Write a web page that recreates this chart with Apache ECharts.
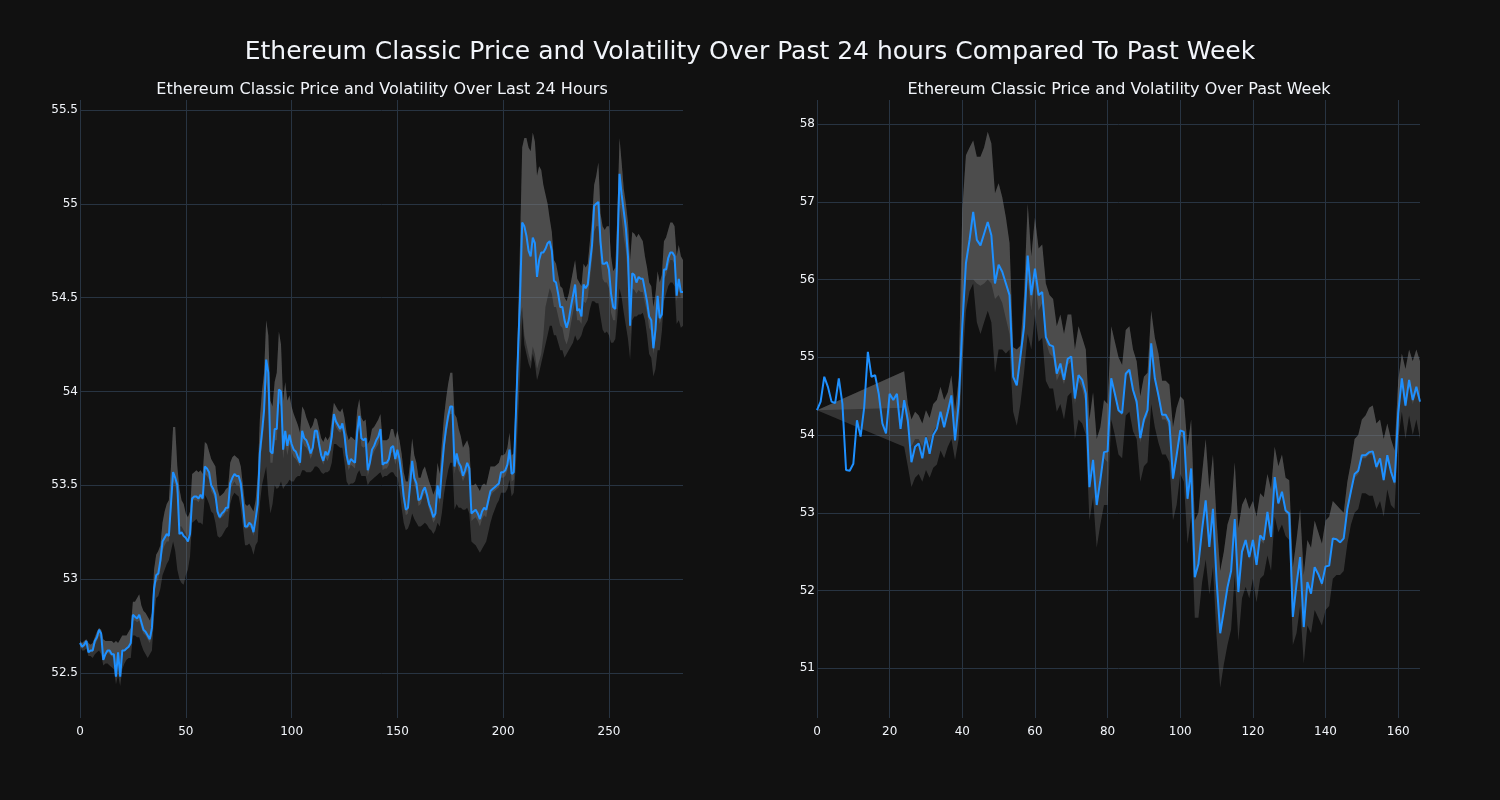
<!DOCTYPE html>
<html><head><meta charset="utf-8">
<script src="https://cdn.jsdelivr.net/npm/echarts@6/dist/echarts.min.js"></script>
<style>html,body{margin:0;padding:0;background:#111111;}#c{width:1500px;height:800px;}</style>
</head><body><div id="c"></div>
<script>
const mainTitle = 'Ethereum Classic Price and Volatility Over Past 24 hours Compared To Past Week';
const leftTitle = 'Ethereum Classic Price and Volatility Over Last 24 Hours';
const rightTitle = 'Ethereum Classic Price and Volatility Over Past Week';

// ---- Left panel: last 24 hours (5-minute steps, x = step index)
const leftPrice = [52.66,52.64,52.65,52.67,52.61,52.62,52.62,52.67,52.69,52.73,
52.71,52.57,52.60,52.62,52.62,52.60,52.60,52.48,52.61,52.48,
52.62,52.62,52.63,52.64,52.66,52.81,52.80,52.79,52.81,52.77,
52.73,52.72,52.70,52.68,52.74,52.95,53.02,53.03,53.10,53.20,
53.22,53.24,53.23,53.40,53.57,53.54,53.50,53.24,53.25,53.23,
53.22,53.20,53.24,53.43,53.44,53.44,53.43,53.45,53.43,53.60,
53.59,53.57,53.50,53.48,53.45,53.36,53.33,53.35,53.36,53.38,
53.38,53.51,53.54,53.56,53.55,53.55,53.51,53.40,53.28,53.28,
53.30,53.29,53.25,53.32,53.40,53.67,53.78,53.90,54.17,54.10,
53.68,53.67,53.80,53.80,54.01,54.00,53.69,53.79,53.71,53.77,
53.72,53.69,53.68,53.65,53.62,53.79,53.75,53.74,53.71,53.67,
53.70,53.79,53.79,53.72,53.66,53.63,53.68,53.66,53.69,53.76,
53.88,53.84,53.82,53.80,53.83,53.77,53.66,53.61,53.64,53.63,
53.62,53.78,53.87,53.75,53.74,53.75,53.58,53.62,53.69,53.71,
53.74,53.76,53.80,53.61,53.62,53.62,53.64,53.70,53.71,53.64,
53.69,53.64,53.55,53.44,53.37,53.38,53.50,53.63,53.54,53.51,
53.42,53.43,53.47,53.49,53.45,53.40,53.37,53.33,53.35,53.50,
53.43,53.58,53.71,53.80,53.87,53.92,53.92,53.60,53.67,53.62,
53.60,53.55,53.58,53.62,53.59,53.35,53.36,53.37,53.35,53.32,
53.36,53.38,53.37,53.42,53.47,53.48,53.49,53.50,53.51,53.57,
53.57,53.58,53.61,53.69,53.56,53.57,53.87,54.20,54.51,54.90,
54.88,54.83,54.75,54.72,54.82,54.79,54.61,54.70,54.74,54.74,
54.76,54.79,54.80,54.75,54.59,54.58,54.52,54.45,54.45,54.38,
54.34,54.38,54.45,54.51,54.57,54.43,54.44,54.40,54.57,54.55,
54.57,54.68,54.78,54.99,55.00,55.01,54.80,54.68,54.68,54.69,
54.65,54.52,54.45,54.44,54.74,55.16,55.05,54.96,54.87,54.72,
54.35,54.63,54.62,54.58,54.61,54.60,54.60,54.54,54.48,54.40,
54.38,54.23,54.33,54.51,54.39,54.41,54.65,54.65,54.71,54.74,
54.74,54.72,54.51,54.60,54.53,54.53];
const leftHi = [52.67,52.66,52.67,52.68,52.66,52.65,52.66,52.69,52.72,52.74,
52.73,52.68,52.67,52.67,52.67,52.67,52.66,52.67,52.66,52.68,
52.70,52.70,52.70,52.72,52.74,52.88,52.88,52.90,52.92,52.86,
52.83,52.82,52.80,52.78,52.82,53.05,53.13,53.15,53.18,53.30,
53.36,53.40,53.42,53.60,53.81,53.81,53.60,53.48,53.42,53.40,
53.35,53.33,53.36,53.56,53.57,53.58,53.57,53.58,53.56,53.73,
53.72,53.68,53.64,53.62,53.60,53.48,53.44,53.45,53.46,53.48,
53.49,53.62,53.65,53.66,53.65,53.64,53.60,53.50,53.40,53.39,
53.40,53.38,53.36,53.42,53.55,53.85,54.00,54.10,54.38,54.30,
53.95,53.92,54.05,54.10,54.32,54.25,53.95,54.05,53.95,53.98,
53.92,53.88,53.85,53.82,53.78,53.92,53.90,53.86,53.83,53.80,
53.82,53.86,53.85,53.80,53.75,53.73,53.76,53.74,53.76,53.85,
53.94,53.92,53.90,53.89,53.91,53.86,53.78,53.74,53.76,53.75,
53.74,53.90,53.96,53.86,53.84,53.85,53.72,53.74,53.80,53.81,
53.83,53.85,53.88,53.74,53.74,53.74,53.75,53.80,53.80,53.75,
53.79,53.74,53.67,53.57,53.52,53.52,53.62,53.75,53.66,53.62,
53.54,53.54,53.58,53.60,53.56,53.52,53.49,53.45,53.48,53.62,
53.56,53.72,53.86,53.96,54.04,54.10,54.10,53.88,53.86,53.80,
53.76,53.70,53.72,53.74,53.70,53.50,53.50,53.51,53.49,53.47,
53.50,53.51,53.50,53.55,53.60,53.60,53.60,53.61,53.62,53.66,
53.66,53.67,53.70,53.78,53.66,53.67,54.00,54.35,54.80,55.30,
55.35,55.35,55.30,55.28,55.38,55.33,55.15,55.20,55.18,55.10,
55.05,55.00,54.92,54.85,54.70,54.68,54.62,54.56,54.55,54.50,
54.48,54.52,54.58,54.64,54.70,54.60,54.58,54.56,54.68,54.66,
54.68,54.80,54.92,55.10,55.15,55.22,54.95,54.88,54.86,54.88,
54.88,54.72,54.64,54.66,54.95,55.35,55.22,55.08,55.00,54.90,
54.70,54.85,54.84,54.82,54.84,54.82,54.80,54.72,54.66,54.58,
54.56,54.45,54.52,54.64,54.58,54.62,54.80,54.82,54.86,54.90,
54.90,54.88,54.72,54.78,54.72,54.70];
const leftMid = [52.65,52.63,52.64,52.65,52.61,52.61,52.61,52.65,52.67,52.70,
52.68,52.60,52.60,52.61,52.60,52.59,52.58,52.52,52.58,52.52,
52.62,52.62,52.63,52.64,52.65,52.78,52.78,52.77,52.78,52.74,
52.71,52.70,52.68,52.66,52.70,52.90,52.98,53.00,53.05,53.15,
53.18,53.20,53.20,53.35,53.52,53.50,53.45,53.28,53.28,53.26,
53.24,53.22,53.26,53.42,53.42,53.42,53.41,53.43,53.42,53.56,
53.55,53.53,53.47,53.45,53.42,53.34,53.32,53.33,53.34,53.36,
53.36,53.48,53.50,53.52,53.50,53.50,53.47,53.37,53.27,53.27,
53.28,53.27,53.23,53.30,53.38,53.60,53.72,53.82,54.05,53.98,
53.62,53.62,53.74,53.74,53.94,53.92,53.64,53.73,53.66,53.72,
53.68,53.65,53.64,53.62,53.60,53.74,53.71,53.70,53.68,53.64,
53.67,53.75,53.75,53.69,53.64,53.61,53.65,53.63,53.66,53.73,
53.84,53.81,53.79,53.78,53.80,53.73,53.63,53.58,53.61,53.60,
53.59,53.74,53.83,53.71,53.70,53.71,53.55,53.59,53.65,53.68,
53.70,53.72,53.76,53.58,53.59,53.59,53.61,53.67,53.68,53.61,
53.65,53.60,53.51,53.40,53.34,53.35,53.46,53.58,53.50,53.47,
53.39,53.40,53.44,53.46,53.42,53.37,53.34,53.30,53.32,53.47,
53.40,53.54,53.67,53.76,53.83,53.88,53.88,53.56,53.63,53.58,
53.56,53.52,53.55,53.58,53.55,53.31,53.32,53.33,53.31,53.28,
53.32,53.34,53.33,53.39,53.44,53.46,53.47,53.48,53.49,53.54,
53.54,53.55,53.58,53.65,53.52,53.53,53.80,54.10,54.40,54.45,
54.30,54.25,54.20,54.16,54.24,54.20,54.12,54.16,54.20,54.30,
54.45,54.50,54.55,54.52,54.45,54.45,54.40,54.35,54.34,54.28,
54.25,54.29,54.36,54.42,54.48,54.38,54.38,54.36,54.48,54.47,
54.50,54.60,54.70,54.85,54.88,54.88,54.70,54.60,54.58,54.58,
54.55,54.42,54.38,54.38,54.65,55.00,54.92,54.82,54.75,54.60,
54.30,54.55,54.54,54.52,54.54,54.53,54.53,54.47,54.42,54.34,
54.32,54.20,54.28,54.44,54.36,54.40,54.60,54.62,54.66,54.70,
54.70,54.68,54.48,54.55,54.50,54.50];
const leftLo = [52.64,52.62,52.62,52.63,52.59,52.59,52.58,52.60,52.61,52.62,
52.60,52.54,52.55,52.55,52.54,52.53,52.52,52.44,52.49,52.43,
52.52,52.55,52.57,52.58,52.58,52.70,52.70,52.69,52.69,52.65,
52.62,52.60,52.58,52.60,52.62,52.80,52.90,52.91,52.95,53.02,
53.05,53.08,53.10,53.15,53.20,53.15,53.05,53.00,52.98,52.97,
53.02,53.05,53.12,53.30,53.31,53.32,53.30,53.30,53.29,53.45,
53.43,53.40,53.36,53.35,53.30,53.23,53.22,53.23,53.25,53.27,
53.28,53.40,53.44,53.46,53.45,53.44,53.38,53.28,53.18,53.18,
53.19,53.17,53.13,53.18,53.20,53.40,53.50,53.55,53.60,53.45,
53.35,53.40,53.50,53.48,53.49,53.52,53.48,53.50,53.51,53.53,
53.52,53.52,53.54,53.55,53.55,53.58,53.58,53.57,53.57,53.57,
53.58,53.60,53.60,53.59,53.57,53.56,53.57,53.57,53.58,53.62,
53.72,53.72,53.71,53.70,53.70,53.62,53.52,53.50,53.51,53.51,
53.52,53.56,53.58,53.55,53.55,53.55,53.50,53.52,53.53,53.54,
53.55,53.56,53.57,53.54,53.55,53.55,53.56,53.57,53.57,53.55,
53.54,53.48,53.38,53.30,53.26,53.27,53.30,53.35,53.32,53.30,
53.28,53.28,53.29,53.30,53.29,53.27,53.26,53.24,53.26,53.30,
53.28,53.35,53.45,53.52,53.58,53.62,53.62,53.37,53.40,53.38,
53.38,53.37,53.37,53.38,53.35,53.20,53.19,53.18,53.16,53.14,
53.16,53.18,53.20,53.25,53.30,53.34,53.37,53.40,53.42,53.46,
53.46,53.46,53.48,53.53,53.44,53.46,53.60,53.85,54.10,54.40,
54.25,54.20,54.15,54.12,54.20,54.15,54.06,54.10,54.15,54.20,
54.25,54.30,54.35,54.35,54.30,54.30,54.26,54.22,54.22,54.18,
54.20,54.22,54.24,54.26,54.30,54.27,54.28,54.30,54.34,54.36,
54.38,54.44,54.48,54.48,54.47,54.47,54.40,54.33,54.31,54.32,
54.30,54.26,54.26,54.28,54.40,54.55,54.50,54.42,54.35,54.28,
54.17,54.38,54.40,54.40,54.41,54.41,54.42,54.38,54.30,54.20,
54.18,54.08,54.12,54.22,54.22,54.32,54.48,54.52,54.56,54.58,
54.58,54.56,54.36,54.38,54.34,54.35];

// ---- Right panel: past week (hourly steps, x = step index)
const rightPrice = [54.32,54.43,54.75,54.62,54.43,54.41,54.73,54.40,53.55,53.54,
53.63,54.19,53.98,54.36,55.07,54.75,54.77,54.53,54.15,54.02,
54.53,54.45,54.53,54.08,54.45,54.19,53.65,53.85,53.89,53.70,
53.97,53.76,54.00,54.08,54.30,54.10,54.30,54.51,53.93,54.40,
55.40,56.21,56.51,56.87,56.51,56.44,56.59,56.74,56.57,55.95,
56.19,56.10,55.95,55.80,54.75,54.64,55.01,55.39,56.31,55.80,
56.14,55.80,55.84,55.26,55.16,55.14,54.79,54.92,54.71,54.98,
55.01,54.47,54.77,54.71,54.53,53.33,53.68,53.10,53.42,53.78,
53.79,54.73,54.53,54.32,54.28,54.79,54.84,54.58,54.43,53.96,
54.20,54.32,55.18,54.73,54.51,54.26,54.26,54.17,53.44,53.74,
54.06,54.04,53.18,53.57,52.17,52.34,52.78,53.16,52.56,53.05,
52.13,51.45,51.74,52.04,52.25,52.92,51.98,52.50,52.65,52.43,
52.65,52.33,52.71,52.65,53.01,52.69,53.46,53.12,53.27,53.03,
52.99,51.66,52.08,52.43,51.53,52.11,51.96,52.30,52.21,52.09,
52.31,52.32,52.67,52.66,52.62,52.67,53.05,53.28,53.50,53.54,
53.74,53.74,53.78,53.79,53.59,53.70,53.42,53.74,53.53,53.39,
54.28,54.73,54.38,54.71,54.45,54.62,54.43];
const N = null;
const rightHi = [54.32,N,N,N,N,N,N,N,N,N,
N,N,N,N,N,N,N,N,N,N,
N,N,N,N,54.82,54.40,54.20,54.30,54.25,54.15,
54.32,54.22,54.40,54.45,54.62,54.45,54.55,54.77,54.30,54.72,
56.90,57.60,57.70,57.79,57.58,57.58,57.70,57.90,57.75,57.11,
57.24,57.06,56.80,56.47,55.13,55.10,55.15,55.80,56.98,56.30,
56.80,56.40,56.45,55.95,55.80,55.75,55.40,55.55,55.30,55.55,
55.55,55.10,55.40,55.25,55.10,54.20,54.55,53.95,54.10,54.45,
54.40,55.40,55.20,55.00,54.90,55.35,55.40,55.10,54.95,54.50,
54.75,54.80,55.60,55.25,55.05,54.70,54.70,54.65,54.10,54.35,
54.50,54.45,53.85,54.20,52.90,53.00,53.50,53.95,53.30,53.75,
52.90,52.25,52.50,52.85,53.00,53.65,52.80,53.10,53.20,53.05,
53.15,52.95,53.25,53.20,53.50,53.30,53.85,53.60,53.75,53.45,
53.42,52.30,52.65,53.05,52.20,52.65,52.55,52.90,52.75,52.60,
52.90,52.95,53.15,53.10,53.05,53.00,53.40,53.65,53.95,54.00,
54.20,54.25,54.35,54.38,54.15,54.20,53.95,54.15,53.95,53.80,
54.70,55.05,54.85,55.10,54.95,55.10,54.95];
const rightMid = [54.32,N,N,N,N,N,N,N,N,N,
N,N,N,N,N,N,N,N,N,N,
N,N,N,N,54.35,54.10,53.85,53.95,53.95,53.85,
54.00,53.90,54.05,54.12,54.28,54.15,54.25,54.42,54.00,54.40,
55.40,56.00,56.00,56.00,55.95,55.92,55.95,56.00,55.95,55.75,
55.80,55.70,55.50,55.30,54.80,54.65,54.95,55.30,56.00,55.60,
56.00,55.60,55.70,55.20,55.05,55.00,54.70,54.80,54.65,54.90,
54.95,54.40,54.70,54.60,54.40,53.40,53.70,53.10,53.40,53.70,
53.65,54.70,54.50,54.30,54.25,54.75,54.80,54.55,54.35,53.90,
54.15,54.25,55.10,54.70,54.45,54.20,54.20,54.10,53.40,53.70,
54.00,53.95,53.15,53.50,52.20,52.35,52.75,53.10,52.55,53.00,
52.10,51.45,51.75,52.05,52.25,52.90,52.00,52.45,52.60,52.40,
52.60,52.30,52.65,52.60,52.95,52.65,53.40,53.10,53.25,53.00,
52.95,51.65,52.05,52.40,51.50,52.10,51.95,52.30,52.20,52.05,
52.30,52.35,52.65,52.65,52.60,52.65,53.00,53.25,53.45,53.50,
53.70,53.70,53.75,53.75,53.55,53.65,53.40,53.70,53.50,53.35,
54.25,54.65,54.35,54.65,54.40,54.55,54.40];
const rightLo = [54.32,N,N,N,N,N,N,N,N,N,
N,N,N,N,N,N,N,N,N,N,
N,N,N,N,53.85,53.60,53.33,53.45,53.50,53.40,
53.55,53.45,53.58,53.62,53.80,53.70,53.85,53.95,53.68,53.95,
54.90,55.60,55.85,55.95,55.45,55.30,55.45,55.60,55.45,54.80,
55.10,55.10,55.05,55.10,54.30,54.12,54.40,54.80,55.30,55.10,
55.55,55.20,55.25,54.70,54.60,54.60,54.30,54.40,54.20,54.50,
54.55,53.95,54.20,54.15,54.00,52.90,53.20,52.55,52.85,53.10,
53.10,54.20,54.00,53.75,53.70,54.25,54.30,54.05,53.95,53.40,
53.60,53.65,54.40,54.10,53.90,53.75,53.75,53.65,52.90,53.10,
53.50,53.40,52.60,52.95,51.65,51.65,52.10,52.40,51.95,52.30,
51.40,50.75,51.05,51.30,51.50,52.20,51.35,51.90,52.05,51.90,
52.15,51.85,52.15,52.20,52.45,52.25,52.95,52.75,52.85,52.70,
52.65,51.30,51.45,51.80,51.06,51.55,51.45,51.75,51.65,51.55,
51.75,51.80,52.15,52.20,52.20,52.25,52.60,52.85,53.00,53.05,
53.25,53.25,53.22,53.22,53.05,53.15,52.95,53.30,53.10,53.05,
53.95,54.30,53.95,54.25,54.00,54.20,53.95];

const FONT = 'DejaVu Sans';
const TXT = '#f2f5fa';
const GRIDC = '#283442';
const BAND = 'rgba(128,128,128,0.32)';

function bandSeries(idx, hi, lo) {
  return {
    type: 'custom', xAxisIndex: idx, yAxisIndex: idx, silent: true, clip: true, z: 1,
    data: [[0, hi[0]]],
    renderItem: function (params, api) {
      const pts = [];
      for (let i = 0; i < hi.length; i++) if (hi[i] != null) pts.push(api.coord([i, hi[i]]));
      for (let i = lo.length - 1; i >= 0; i--) if (lo[i] != null) pts.push(api.coord([i, lo[i]]));
      return { type: 'polygon', shape: { points: pts }, style: { fill: BAND, stroke: null } };
    }
  };
}
function lineSeries(idx, arr) {
  return {
    type: 'line', xAxisIndex: idx, yAxisIndex: idx, z: 3, showSymbol: false, clip: true,
    data: arr.map((v, i) => [i, v]),
    lineStyle: { color: '#1E90FF', width: 2 }, itemStyle: { color: '#1E90FF' }
  };
}
function xAx(idx, max, interval) {
  return {
    type: 'value', gridIndex: idx, min: 0, max: max, interval: interval,
    axisLine: { show: false }, axisTick: { show: false },
    axisLabel: { color: TXT, fontSize: 12, fontFamily: FONT, margin: 8, showMaxLabel: false },
    splitLine: { show: true, showMaxLine: false, lineStyle: { color: GRIDC, width: 1 } }
  };
}
function yAx(idx, min, max, interval) {
  return {
    type: 'value', gridIndex: idx, min: min, max: max, minInterval: interval, maxInterval: interval,
    axisLine: { show: false }, axisTick: { show: false },
    axisLabel: { color: TXT, fontSize: 12, fontFamily: FONT, margin: 2, showMinLabel: false, showMaxLabel: false },
    splitLine: { show: true, showMinLine: false, showMaxLine: false, lineStyle: { color: GRIDC, width: 1 } }
  };
}

const chart = echarts.init(document.getElementById('c'), null, { renderer: 'canvas' });
chart.setOption({
  backgroundColor: '#111111',
  animation: false,
  title: [
    { text: mainTitle, left: 'center', top: 35, textStyle: { color: TXT, fontSize: 25, fontWeight: 'normal', fontFamily: FONT } },
    { text: leftTitle, left: 377, textAlign: 'center', top: 77, textStyle: { color: TXT, fontSize: 16, fontWeight: 'normal', fontFamily: FONT } },
    { text: rightTitle, left: 1114, textAlign: 'center', top: 77, textStyle: { color: TXT, fontSize: 16, fontWeight: 'normal', fontFamily: FONT } }
  ],
  grid: [
    { left: 80, top: 100, width: 603, height: 618 },
    { left: 817, top: 100, width: 603, height: 618 }
  ],
  xAxis: [xAx(0, 285, 50), xAx(1, 166, 20)],
  yAxis: [yAx(0, 52.26, 55.553, 0.5), yAx(1, 50.36, 58.31, 1)],
  series: [
    bandSeries(0, leftHi, leftLo), bandSeries(0, leftHi, leftMid), lineSeries(0, leftPrice),
    bandSeries(1, rightHi, rightLo), bandSeries(1, rightHi, rightMid), lineSeries(1, rightPrice)
  ]
});
</script></body></html>
